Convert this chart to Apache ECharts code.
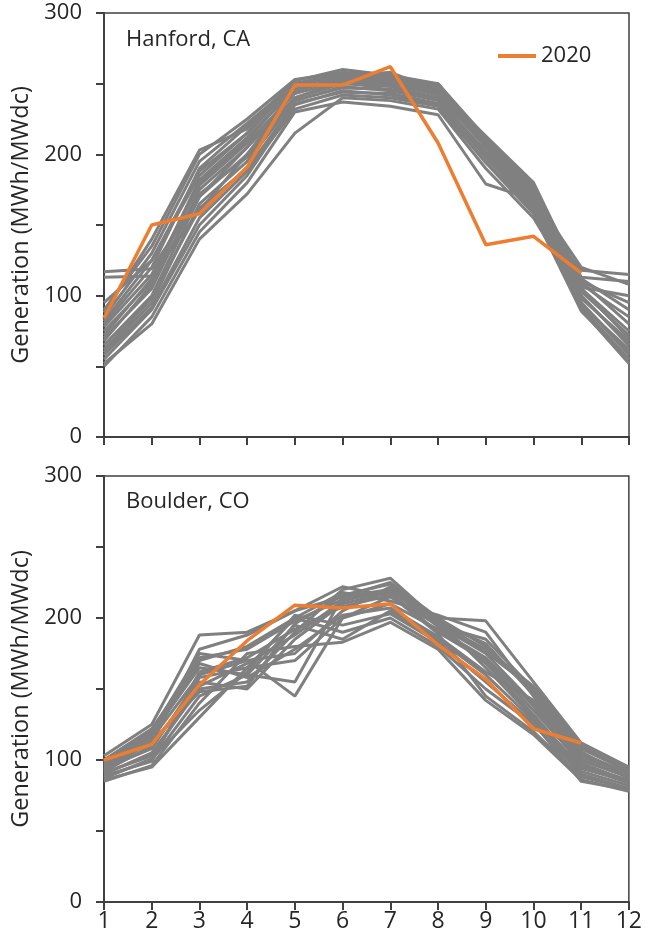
<!DOCTYPE html>
<html><head><meta charset="utf-8">
<script src="https://cdn.jsdelivr.net/npm/echarts@6/dist/echarts.min.js"></script>
<style>html,body{margin:0;padding:0;background:#fff}#c{width:645px;height:949px}</style>
</head><body><div id="c"></div>
<script>
const months = ['1','2','3','4','5','6','7','8','9','10','11','12'];
const yTicks = [0,100,200,300];

const hanford2020 = [84,150,158,191,249,249,262,208,136,142,116,null];
const hanfordPast = [
  [117,119,170,205,240,252,245,240,200,160,118,115],
  [113,114,160,200,245,255,250,245,205,170,120,108],
  [95,125,185,215,250,258,255,248,210,175,110,80],
  [80,120,190,220,252,260,256,250,212,178,105,70],
  [75,110,180,210,248,256,252,246,208,172,100,65],
  [70,105,175,205,245,254,250,242,205,168,95,60],
  [65,100,170,200,240,250,248,240,200,165,92,55],
  [60,95,165,195,238,248,245,238,198,162,90,52],
  [55,90,150,185,235,245,242,235,195,160,95,58],
  [52,80,140,172,215,240,238,232,190,155,100,65],
  [50,85,145,180,230,237,234,228,179,168,105,75],
  [85,130,195,222,250,255,258,245,205,165,108,85],
  [90,135,200,225,253,258,252,250,210,175,112,90],
  [88,140,203,218,250,257,253,246,213,180,110,95],
  [78,115,178,208,243,252,249,243,207,170,103,72],
  [68,108,172,198,238,247,246,239,202,166,98,68],
  [62,98,162,190,236,244,243,236,199,163,93,62],
  [72,112,182,212,246,253,251,244,209,174,106,100],
  [82,125,188,215,249,256,254,247,211,177,113,110],
  [58,92,155,188,232,242,240,234,194,158,89,55]
];

const boulder2020 = [100,111,153,184,209,207,210,181,157,122,112,null];
const boulderPast = [
  [103,125,188,190,205,215,220,200,198,155,112,95],
  [100,120,175,170,145,200,215,195,185,150,108,92],
  [98,118,165,160,155,215,225,200,180,148,105,90],
  [95,115,160,170,175,205,222,195,175,140,100,88],
  [92,110,155,150,185,210,218,190,170,135,98,85],
  [90,105,150,155,190,220,228,198,165,130,95,84],
  [88,100,145,160,195,185,205,185,160,128,92,82],
  [86,95,130,165,200,190,200,180,150,125,90,80],
  [85,96,140,175,180,183,197,178,142,118,86,78],
  [100,122,170,180,200,218,212,202,190,145,100,88],
  [96,112,178,188,205,222,215,196,178,152,110,93],
  [94,108,158,165,170,200,210,192,172,138,96,86],
  [91,103,152,168,188,212,220,194,168,132,94,85],
  [89,99,162,172,192,208,216,189,145,120,88,80],
  [97,117,168,158,178,202,207,187,162,142,102,90],
  [93,113,148,152,196,216,224,197,182,146,104,91],
  [87,101,135,162,202,195,203,183,155,126,85,79],
  [99,119,172,178,198,213,219,199,176,150,106,87]
];

const FONT = '"Open Sans", "Noto Sans", sans-serif';
const GRAY = '#808080', ORANGE = '#ED7D31', INK = '#262626', AX = '#404040';

function xAxis(gi, showLabels) {
  return {
    type: 'category', gridIndex: gi, data: months, boundaryGap: false,
    axisLine: {lineStyle: {color: AX, width: 2}},
    axisTick: {show: true, alignWithLabel: true, length: 8, lineStyle: {color: AX, width: 2}},
    axisLabel: {show: showLabels, color: INK, fontSize: 23, fontFamily: FONT, margin: 8}
  };
}
function yAxis(gi) {
  return {
    type: 'value', gridIndex: gi, min: 0, max: 300, interval: 50,
    name: 'Generation (MWh/MWdc)', nameLocation: 'middle', nameGap: 71,
    nameTextStyle: {fontSize: 23.5, fontFamily: FONT, color: INK},
    axisLine: {show: true, lineStyle: {color: AX, width: 2}},
    axisTick: {show: true, length: 8, lineStyle: {color: AX, width: 2}},
    splitLine: {show: false},
    axisLabel: {color: INK, fontSize: 22, fontFamily: FONT, margin: 22,
      formatter: v => yTicks.includes(v) ? String(v) : ''}
  };
}

const series = [];
hanfordPast.forEach((d, i) => series.push({type: 'line', name: 'h' + i, xAxisIndex: 0, yAxisIndex: 0, data: d,
  symbol: 'none', lineStyle: {color: GRAY, width: 3}, silent: true}));
series.push({type: 'line', name: '2020', xAxisIndex: 0, yAxisIndex: 0, data: hanford2020,
  symbol: 'none', lineStyle: {color: ORANGE, width: 3.5}, itemStyle: {color: ORANGE}});
boulderPast.forEach((d, i) => series.push({type: 'line', name: 'b' + i, xAxisIndex: 1, yAxisIndex: 1, data: d,
  symbol: 'none', lineStyle: {color: GRAY, width: 3}, silent: true}));
series.push({type: 'line', name: '2020b', xAxisIndex: 1, yAxisIndex: 1, data: boulder2020,
  symbol: 'none', lineStyle: {color: ORANGE, width: 3.5}, itemStyle: {color: ORANGE}});

const chart = echarts.init(document.getElementById('c'), null, {renderer: 'canvas'});
chart.setOption({
  animation: false,
  backgroundColor: '#fff',
  grid: [
    {left: 104, right: 16, top: 13, height: 424, show: true, borderColor: AX, borderWidth: 1.5, containLabel: false},
    {left: 104, right: 16, top: 476, height: 426, show: true, borderColor: AX, borderWidth: 1.5, containLabel: false}
  ],
  title: [
    {text: 'Hanford, CA', left: 121, top: 24, textStyle: {fontSize: 22, fontWeight: 'normal', fontFamily: FONT, color: INK}},
    {text: 'Boulder, CO', left: 121, top: 486, textStyle: {fontSize: 22, fontWeight: 'normal', fontFamily: FONT, color: INK}}
  ],
  legend: {data: ['2020'], left: 493, top: 40, itemWidth: 38, itemHeight: 4, icon: 'rect',
    textStyle: {fontSize: 22, fontFamily: FONT, color: INK}, itemGap: 2},
  xAxis: [xAxis(0, false), xAxis(1, true)],
  yAxis: [yAxis(0), yAxis(1)],
  series: series
});
</script></body></html>
